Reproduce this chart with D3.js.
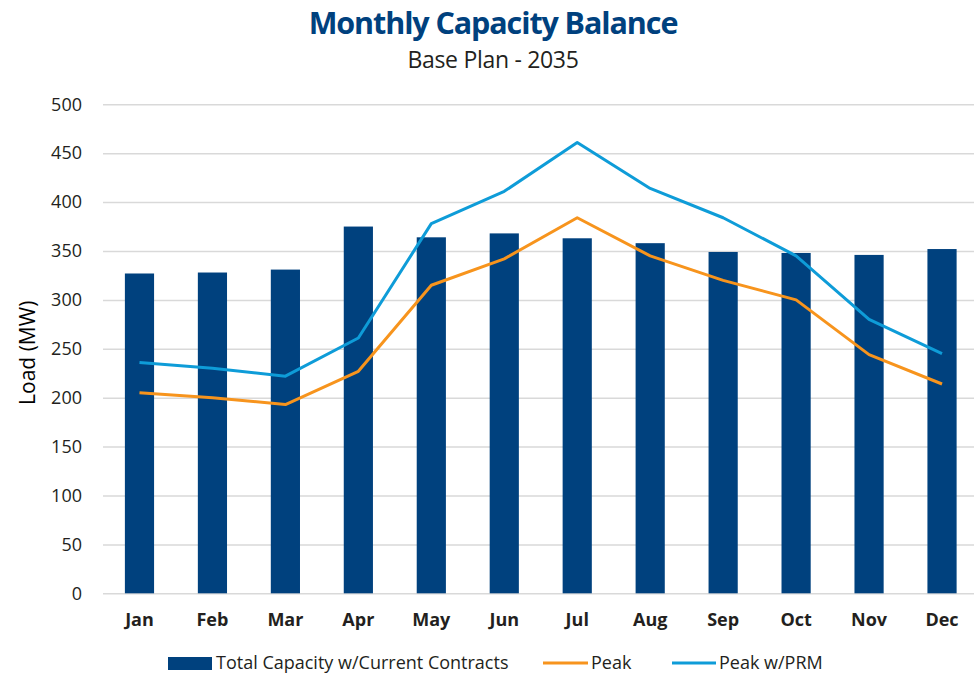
<!DOCTYPE html>
<html>
<head>
<meta charset="utf-8">
<script src="https://cdn.jsdelivr.net/npm/d3@7"></script>
<style>
  html, body { margin: 0; padding: 0; background: #fff; }
  svg { display: block; font-family: "Open Sans", "Noto Sans", sans-serif; }
</style>
</head>
<body>
<svg id="chart" width="974" height="676"></svg>
<script>
// Monthly capacity balance, base plan 2035 (MW)
const months = ["Jan", "Feb", "Mar", "Apr", "May", "Jun", "Jul", "Aug", "Sep", "Oct", "Nov", "Dec"];
const totalCapacity = [327, 328, 331, 375, 364, 368, 363, 358, 349, 348, 346, 352];
const peak = [205, 200, 193, 227, 315, 342, 384, 345, 320, 300, 244, 214];
const peakPRM = [236, 230, 222, 261, 378, 411, 461, 414, 384, 345, 280, 245];
const yTicks = [0, 50, 100, 150, 200, 250, 300, 350, 400, 450, 500];

const colors = { bar: "#00417e", peak: "#f7941d", prm: "#0e9cd8", title: "#00417e", text: "#231f20", grid: "#d9d9d9" };

const svg = d3.select("#chart");
const margin = { left: 103, right: -4.5, top: 104.3, bottom: 82.7 };
const W = 974, H = 676;

const x = d3.scaleBand()
  .domain(months)
  .range([margin.left, W - margin.right])
  .paddingInner(0.6)
  .paddingOuter(0.3);

const y = d3.scaleLinear().domain([0, 500]).range([H - margin.bottom, margin.top]);

// Title block
svg.append("text")
  .attr("x", 493).attr("y", 34)
  .attr("text-anchor", "middle")
  .attr("font-size", 30.5).attr("font-weight", 700)
  .attr("letter-spacing", -1.1)
  .attr("fill", colors.title)
  .text("Monthly Capacity Balance");
svg.append("text")
  .attr("x", 493).attr("y", 68)
  .attr("text-anchor", "middle")
  .attr("font-size", 23)
  .attr("letter-spacing", -0.3)
  .attr("fill", colors.text)
  .text("Base Plan - 2035");

// Horizontal gridlines and y labels
const yAxis = d3.axisLeft(y).tickValues(yTicks).tickSize(-(W - margin.left)).tickPadding(21);
const gy = svg.append("g").attr("transform", `translate(${margin.left},0)`).call(yAxis);
gy.select(".domain").remove();
gy.selectAll(".tick line").attr("stroke", colors.grid).attr("stroke-width", 1.5);
gy.selectAll(".tick text")
  .attr("font-size", 18).attr("fill", colors.text)
  .attr("font-family", "'Open Sans', sans-serif");

// Y axis title
svg.append("text")
  .attr("transform", `translate(35,${(y(0) + y(500)) / 2 + 4}) rotate(-90)`)
  .attr("text-anchor", "middle")
  .attr("font-size", 21)
  .attr("fill", "#000")
  .text("Load (MW)");

// Capacity bars
svg.append("g").selectAll("rect")
  .data(months.map((m, i) => ({ m, v: totalCapacity[i] })))
  .join("rect")
  .attr("x", d => x(d.m))
  .attr("width", x.bandwidth())
  .attr("y", d => y(d.v))
  .attr("height", d => y(0) - y(d.v))
  .attr("fill", colors.bar);

// X axis labels
const xAxis = d3.axisBottom(x).tickSize(0).tickPadding(20);
const gx = svg.append("g").attr("transform", `translate(0,${y(0)})`).call(xAxis);
gx.select(".domain").remove();
gx.selectAll(".tick text")
  .attr("font-size", 18).attr("font-weight", 700).attr("fill", colors.text)
  .attr("font-family", "'Open Sans', sans-serif");

// Peak lines
const line = d3.line()
  .x((d, i) => x(months[i]) + x.bandwidth() / 2)
  .y(d => y(d));
svg.append("path").datum(peak)
  .attr("d", line).attr("fill", "none")
  .attr("stroke", colors.peak).attr("stroke-width", 3).attr("stroke-linejoin", "round");
svg.append("path").datum(peakPRM)
  .attr("d", line).attr("fill", "none")
  .attr("stroke", colors.prm).attr("stroke-width", 3).attr("stroke-linejoin", "round");

// Legend
const legend = svg.append("g").attr("font-size", 18).attr("fill", colors.text);
const ly = 663;
legend.append("rect").attr("x", 168).attr("y", ly - 6).attr("width", 44).attr("height", 13).attr("fill", colors.bar);
legend.append("text").attr("x", 216).attr("y", ly + 6).text("Total Capacity w/Current Contracts");
legend.append("line").attr("x1", 543).attr("x2", 588).attr("y1", ly).attr("y2", ly)
  .attr("stroke", colors.peak).attr("stroke-width", 3);
legend.append("text").attr("x", 591).attr("y", ly + 6).text("Peak");
legend.append("line").attr("x1", 672).attr("x2", 716).attr("y1", ly).attr("y2", ly)
  .attr("stroke", colors.prm).attr("stroke-width", 3);
legend.append("text").attr("x", 719).attr("y", ly + 6).text("Peak w/PRM");
</script>
</body>
</html>
